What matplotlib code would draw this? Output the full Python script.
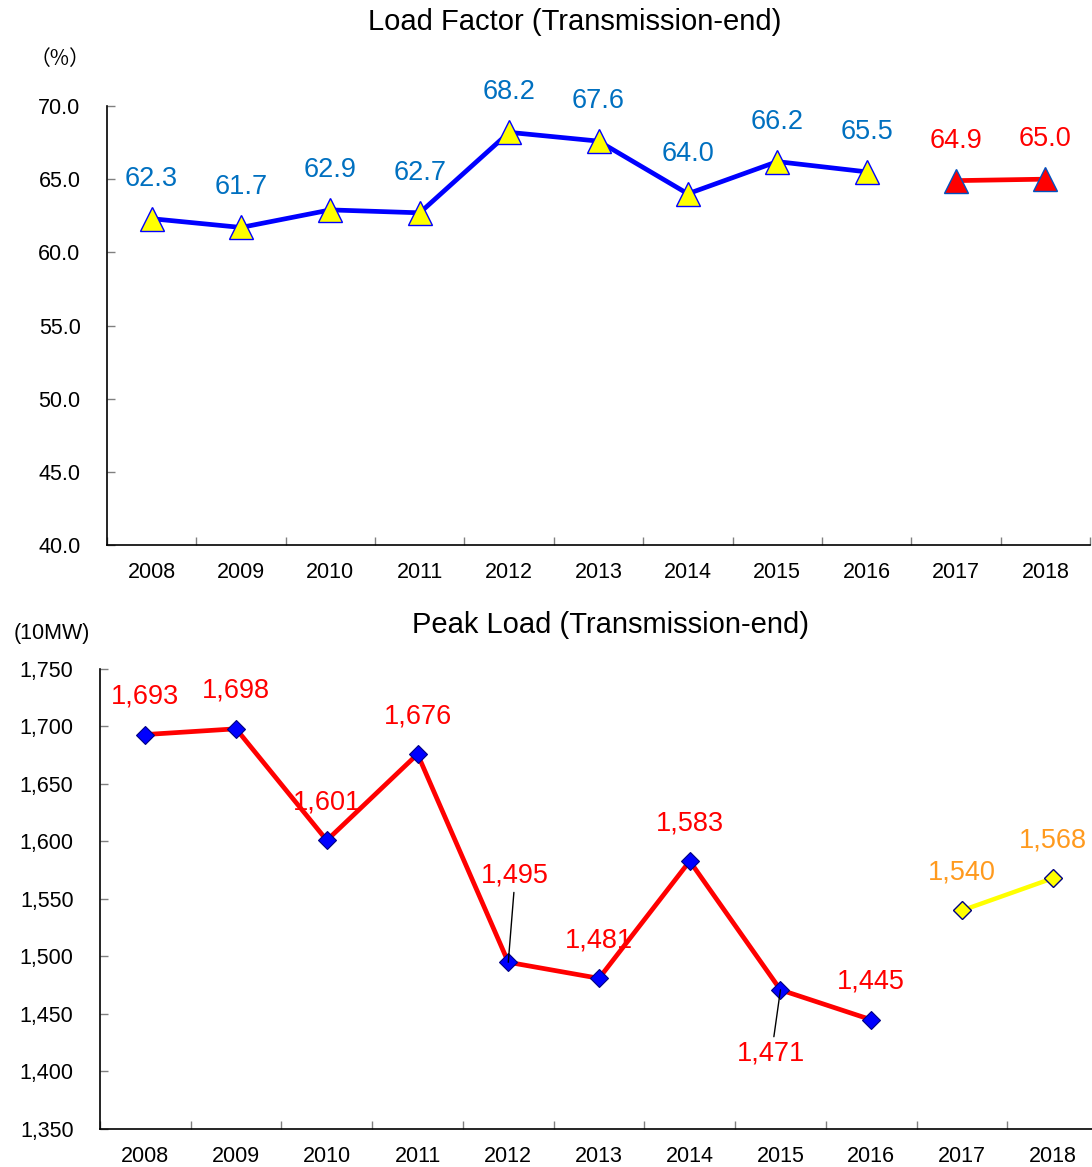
import matplotlib
matplotlib.use("Agg")
import matplotlib.pyplot as plt
from matplotlib.ticker import FixedLocator, FuncFormatter

plt.rcParams['font.family'] = ['Liberation Sans', 'Noto Sans CJK JP', 'DejaVu Sans']

years = ["2008", "2009", "2010", "2011", "2012", "2013", "2014", "2015", "2016", "2017", "2018"]
load_factor_actual = [62.3, 61.7, 62.9, 62.7, 68.2, 67.6, 64.0, 66.2, 65.5]
load_factor_forecast = [64.9, 65.0]
peak_load_actual = [1693, 1698, 1601, 1676, 1495, 1481, 1583, 1471, 1445]
peak_load_forecast = [1540, 1568]

fig = plt.figure(figsize=(10.92, 11.67), dpi=100)

def style_axes(ax, ymin, ymax, ystep, fmt):
    n = len(years)
    ax.set_xlim(-0.5, n - 0.5)
    ax.set_ylim(ymin, ymax)
    for s in ['top', 'right']:
        ax.spines[s].set_visible(False)
    for s in ['left', 'bottom']:
        ax.spines[s].set_linewidth(1.2)
    ax.xaxis.set_major_locator(FixedLocator([i - 0.5 for i in range(n + 1)]))
    ax.xaxis.set_major_formatter(FuncFormatter(lambda v, p: ""))
    ax.xaxis.set_minor_locator(FixedLocator(list(range(n))))
    ax.set_xticklabels(years, minor=True)
    ax.tick_params(axis='x', which='major', direction='in', length=6, width=1, color='#808080')
    ax.tick_params(axis='x', which='minor', length=0, labelsize=15.5, pad=12)
    yt = []
    v = ymin
    while v <= ymax + 1e-9:
        yt.append(v)
        v += ystep
    ax.set_yticks(yt)
    ax.yaxis.set_major_formatter(FuncFormatter(fmt))
    ax.tick_params(axis='y', direction='in', length=6, width=1, color='#808080', labelsize=15.5, pad=19)

# ---------------- Top chart ----------------
ax1 = fig.add_axes([107 / 1092, 1 - 545 / 1167, 983 / 1092, 439 / 1167])
style_axes(ax1, 40, 70, 5, lambda v, p: f"{v:.1f}")
xa = list(range(len(load_factor_actual)))
xf = list(range(len(load_factor_actual), len(years)))
ax1.plot(xa, load_factor_actual, color='#0000FF', lw=3.4, marker='^', ms=17,
         mfc='#FFFF00', mec='#0000FF', mew=1, zorder=3)
ax1.plot(xf, load_factor_forecast, color='#FF0000', lw=3.4, marker='^', ms=17,
         mfc='#FF0000', mec='#0050C0', mew=1, zorder=3)
for x, v in zip(xa, load_factor_actual):
    ax1.annotate(f"{v:.1f}", (x, v), xytext=(0, 40), textcoords='offset pixels',
                 ha='center', va='center', fontsize=19.5, color='#0070C0')
for x, v in zip(xf, load_factor_forecast):
    ax1.annotate(f"{v:.1f}", (x, v), xytext=(0, 40), textcoords='offset pixels',
                 ha='center', va='center', fontsize=19.5, color='#FF0000')
fig.text(575 / 1092, 1 - 22 / 1167, "Load Factor (Transmission-end)", ha='center', va='center', fontsize=21)
fig.text(60 / 1092, 1 - 59 / 1167, "（%）", ha='center', va='center', fontsize=15,
         family=['Noto Sans CJK JP', 'DejaVu Sans'])

# ---------------- Bottom chart ----------------
ax2 = fig.add_axes([100 / 1092, 1 - 1129 / 1167, 998 / 1092, 460 / 1167])
style_axes(ax2, 1350, 1750, 50, lambda v, p: f"{int(v):,}")
ax2.plot(xa, peak_load_actual, color='#FF0000', lw=3.4, marker='D', ms=9.5,
         mfc='#0000FF', mec='#000080', mew=0.8, zorder=3)
ax2.plot(xf, peak_load_forecast, color='#FFFF00', lw=3.2, marker='D', ms=9.5,
         mfc='#FFFF00', mec='#000080', mew=1, zorder=3)
offsets = {4: (7, 87), 7: (-9, -64)}
for x, v in zip(xa, peak_load_actual):
    if x in offsets:
        ax2.annotate(f"{v:,}", (x, v), xytext=offsets[x], textcoords='offset pixels',
                     ha='center', va='center', fontsize=19.5, color='#FF0000',
                     arrowprops=dict(arrowstyle='-', color='black', lw=1, shrinkA=1, shrinkB=0))
    else:
        ax2.annotate(f"{v:,}", (x, v), xytext=(0, 38), textcoords='offset pixels',
                     ha='center', va='center', fontsize=19.5, color='#FF0000')
for x, v in zip(xf, peak_load_forecast):
    ax2.annotate(f"{v:,}", (x, v), xytext=(0, 38), textcoords='offset pixels',
                 ha='center', va='center', fontsize=19.5, color='#FF9A1E')
fig.text(611 / 1092, 1 - 625 / 1167, "Peak Load (Transmission-end)", ha='center', va='center', fontsize=21)
fig.text(52 / 1092, 1 - 634 / 1167, "(10MW)", ha='center', va='center', fontsize=15.5)

fig.savefig("out.png", dpi=100)
